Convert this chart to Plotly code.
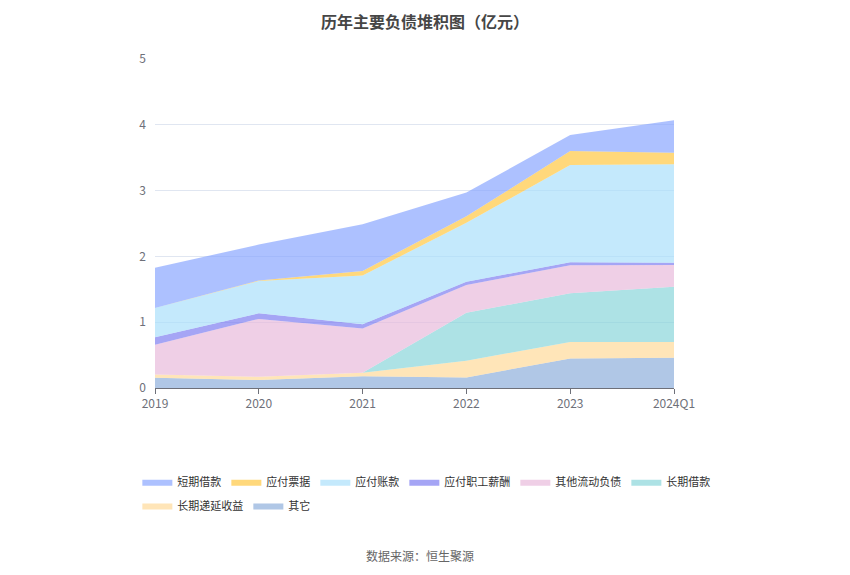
import plotly.graph_objects as go

# 年份
years = ["2019", "2020", "2021", "2022", "2023", "2024Q1"]

# 各项负债（亿元），从下往上堆积
qita = [0.157, 0.12, 0.18, 0.16, 0.45, 0.46]           # 其它
changqi_diyan = [0.05, 0.05, 0.05, 0.255, 0.25, 0.24]  # 长期递延收益
changqi_jiekuan = [0.0, 0.0, 0.0, 0.73, 0.74, 0.84]    # 长期借款
qita_liudong = [0.45, 0.88, 0.675, 0.42, 0.425, 0.33]  # 其他流动负债
zhigong_xinchou = [0.115, 0.085, 0.065, 0.05, 0.045, 0.035]  # 应付职工薪酬
yingfu_zhangkuan = [0.445, 0.49, 0.74, 0.895, 1.48, 1.495]   # 应付账款
yingfu_piaoju = [0.0, 0.01, 0.07, 0.10, 0.21, 0.175]         # 应付票据
duanqi_jiekuan = [0.61, 0.545, 0.71, 0.36, 0.245, 0.495]     # 短期借款

series = [
    ("其它", qita, (139, 172, 218), "legend2"),
    ("长期递延收益", changqi_diyan, (255, 216, 150), "legend2"),
    ("长期借款", changqi_jiekuan, (134, 212, 216), "legend"),
    ("其他流动负债", qita_liudong, (232, 184, 218), "legend"),
    ("应付职工薪酬", zhigong_xinchou, (122, 122, 240), "legend"),
    ("应付账款", yingfu_zhangkuan, (168, 222, 250), "legend"),
    ("应付票据", yingfu_piaoju, (255, 197, 61), "legend"),
    ("短期借款", duanqi_jiekuan, (134, 164, 255), "legend"),
]

fig = go.Figure()
for name, vals, (r, g, b), lg in series:
    fig.add_trace(go.Scatter(
        x=years, y=vals, name=name, mode="lines",
        stackgroup="one", line=dict(width=0, color=f"rgb({r},{g},{b})"),
        fillcolor=f"rgba({r},{g},{b},0.68)", legend=lg,
    ))

# the page body has an 8px margin, so the figure is shrunk to fit the window
font = "Noto Sans CJK SC"
fig.update_layout(
    width=834, height=559,
    margin=dict(l=147, r=168, t=51, b=179),
    paper_bgcolor="white", plot_bgcolor="white",
    font=dict(family=font, size=12, color="#6E7079"),
    legend=dict(orientation="h", x=-0.034, xanchor="left", y=-0.285, yanchor="middle",
                traceorder="reversed", font=dict(size=11, color="#333333"),
                itemwidth=30),
    legend2=dict(orientation="h", x=-0.034, xanchor="left", y=-0.357, yanchor="middle",
                 traceorder="reversed", font=dict(size=11, color="#333333"),
                 itemwidth=30),
    showlegend=True,
    hovermode="x unified",
)
fig.update_xaxes(type="category", range=[0, 5], showgrid=False,
                 showline=True, linecolor="#6E7079", linewidth=1,
                 ticks="outside", ticklen=5, tickcolor="#6E7079",
                 tickfont=dict(color="#6E7079", size=12))
fig.update_yaxes(range=[0, 5], dtick=1, showgrid=True, gridcolor="#E0E6F1",
                 zeroline=False, showline=False, ticks="", ticklabelstandoff=8,
                 tickfont=dict(color="#6E7079", size=12))

# title
fig.add_annotation(text="<b>历年主要负债堆积图（亿元）</b>", xref="paper", yref="paper",
                   x=0.52, y=1.115, xanchor="center", yanchor="middle",
                   showarrow=False, font=dict(family=font, size=16, color="#464646"))

fig.add_annotation(text="数据来源：恒生聚源", xref="paper", yref="paper",
                   x=0.51, y=-0.51, xanchor="center", yanchor="middle",
                   showarrow=False, font=dict(family=font, size=12, color="#666666"))

fig.write_html("out.html")
